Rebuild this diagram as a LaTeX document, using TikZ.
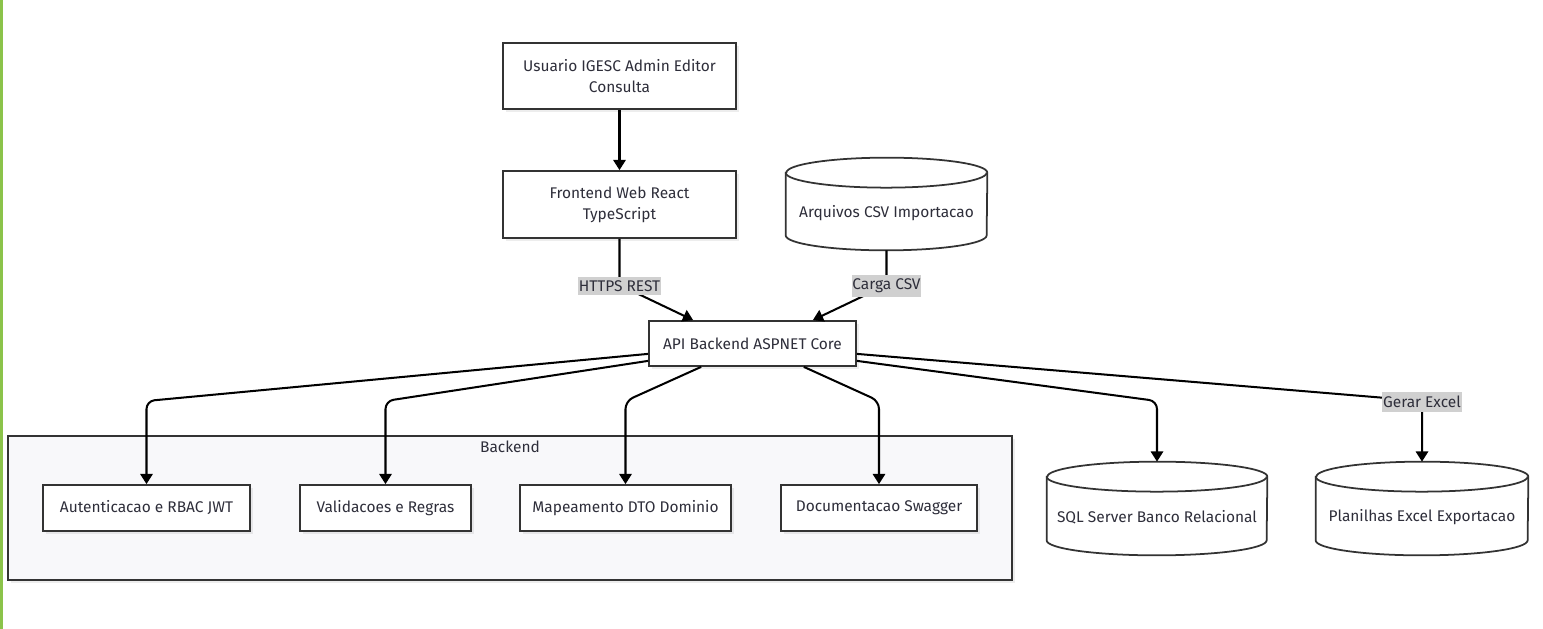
\documentclass[tikz,border=0pt]{standalone}
\usepackage{fontspec}
\setmainfont{Fira Sans}
\usetikzlibrary{arrows.meta,calc,shadows}
\definecolor{ink}{HTML}{333333}
\definecolor{txt}{HTML}{2E2E3A}
\definecolor{lblbg}{HTML}{D0D0D0}
\definecolor{clfill}{HTML}{F8F8FA}
\definecolor{edgegreen}{HTML}{8BC34A}
\tikzset{
  lblfont/.style={font=\fontsize{8.8}{11.9}\selectfont},
  box/.style={draw=ink, line width=1pt, fill=white, text=txt, lblfont, align=center, inner sep=0pt,
    drop shadow={shadow xshift=1.6pt, shadow yshift=-1.6pt, fill=black, opacity=0.07}},
  cluster/.style={draw=ink, line width=0.9pt, fill=clfill, inner sep=0pt,
    drop shadow={shadow xshift=1.6pt, shadow yshift=-1.6pt, fill=black, opacity=0.07}},
  edge/.style={draw=black, line width=1.15pt, rounded corners=0.16cm, -{Triangle[length=5.8pt,width=7pt]}},
  elabel/.style={fill=lblbg, text=txt, lblfont, inner xsep=0.5pt, inner ysep=2.2pt},
  cyltext/.style={text=txt, lblfont, inner sep=0pt},
  cylline/.style={draw=ink, line width=1pt},
}
% name, cx, cy, half width (px), half height (px), text
\newcommand{\dbcyl}[6]{%
  \node[inner sep=0pt, minimum width={2*#4*0.02cm}, minimum height={2*#5*0.02cm}] (#1) at (#2,#3) {};
  \begin{scope}[shift={(2.5,3)}]
    \fill[black, opacity=0.07] ($(#1.north west)+(0,15)$) -- ($(#1.south west)+(0,-15)$)
      arc[start angle=180, end angle=360, x radius={#4*0.02cm}, y radius=0.3cm]
      -- ($(#1.north east)+(0,15)$)
      arc[start angle=0, end angle=180, x radius={#4*0.02cm}, y radius=0.3cm] -- cycle;
  \end{scope}
  \path[cylline, fill=white] ($(#1.north west)+(0,15)$) -- ($(#1.south west)+(0,-15)$)
    arc[start angle=180, end angle=360, x radius={#4*0.02cm}, y radius=0.3cm]
    -- ($(#1.north east)+(0,15)$)
    arc[start angle=0, end angle=180, x radius={#4*0.02cm}, y radius=0.3cm] -- cycle;
  \draw[cylline] ($(#1.north west)+(0,15)$)
    arc[start angle=180, end angle=360, x radius={#4*0.02cm}, y radius=0.3cm];
  \node[cyltext] (#1-text) at (#2,#3+9) {#6};
}
\begin{document}
\begin{tikzpicture}[x=0.02cm, y=-0.02cm]
\useasboundingbox (0,0) rectangle (1543,629);
\fill[edgegreen] (0,0) rectangle (3,629);

% cluster
\node[cluster, minimum width=20.08cm, minimum height=2.88cm] (backend) at (510,508) {};
\node[text=txt, lblfont, inner sep=0pt] (backendlbl) at (510,447) {Backend};

% nodes
\node[box, minimum width=4.66cm, minimum height=1.32cm] (user) at (619.5,76) {Usuario IGESC Admin Editor\\Consulta};
\node[box, minimum width=4.66cm, minimum height=1.34cm] (front) at (619.5,204.5) {Frontend Web React\\TypeScript};
\dbcyl{csv}{886.5}{204}{100.5}{46}{Arquivos CSV Importacao}
\node[box, minimum width=4.14cm, minimum height=0.9cm] (api) at (752.5,343.5) {API Backend ASPNET Core};

\node[box, minimum width=4.14cm, minimum height=0.92cm] (auth) at (146.5,508) {Autenticacao e RBAC JWT};
\node[box, minimum width=3.42cm, minimum height=0.92cm] (valid) at (385.5,508) {Validacoes e Regras};
\node[box, minimum width=4.22cm, minimum height=0.92cm] (map) at (625.5,508) {Mapeamento DTO Dominio};
\node[box, minimum width=3.92cm, minimum height=0.92cm] (doc) at (879,508) {Documentacao Swagger};

\dbcyl{sql}{1157}{508.5}{110}{46.5}{SQL Server Banco Relacional}
\dbcyl{xls}{1422}{508.5}{106}{46.5}{Planilhas Excel Exportacao}

% edges
\draw[edge] (user.south) -- (front.north);
\draw[edge] (front.south) -- (619.5,285) -- ($(api.north west)+(45,0)$);
\draw[edge] (csv.south) -- (886.5,285) -- ($(api.north east)+(-44,0)$);

\draw[edge] ($(api.south west)+(0,-13)$) -- (146.5,401) -- (auth.north);
\draw[edge] ($(api.south west)+(0,-6)$) -- (385.5,401) -- (valid.north);
\draw[edge] ($(api.south west)+(53,0)$) -- (625.5,401) -- (map.north);
\draw[edge] ($(api.south east)+(-53,0)$) -- (879,401) -- (doc.north);
\draw[edge] ($(api.south east)+(0,-6)$) -- (1157,401) -- (sql.north);
\draw[edge] ($(api.south east)+(0,-13)$) -- (1422,401) -- (xls.north);

% edge labels
\node[elabel] (lhttps) at (619.5,286) {HTTPS REST};
\node[elabel] (lcsv) at (886.5,286) {Carga CSV};
\node[elabel] (lxls) at (1422,402) {Gerar Excel};
\end{tikzpicture}
\end{document}
